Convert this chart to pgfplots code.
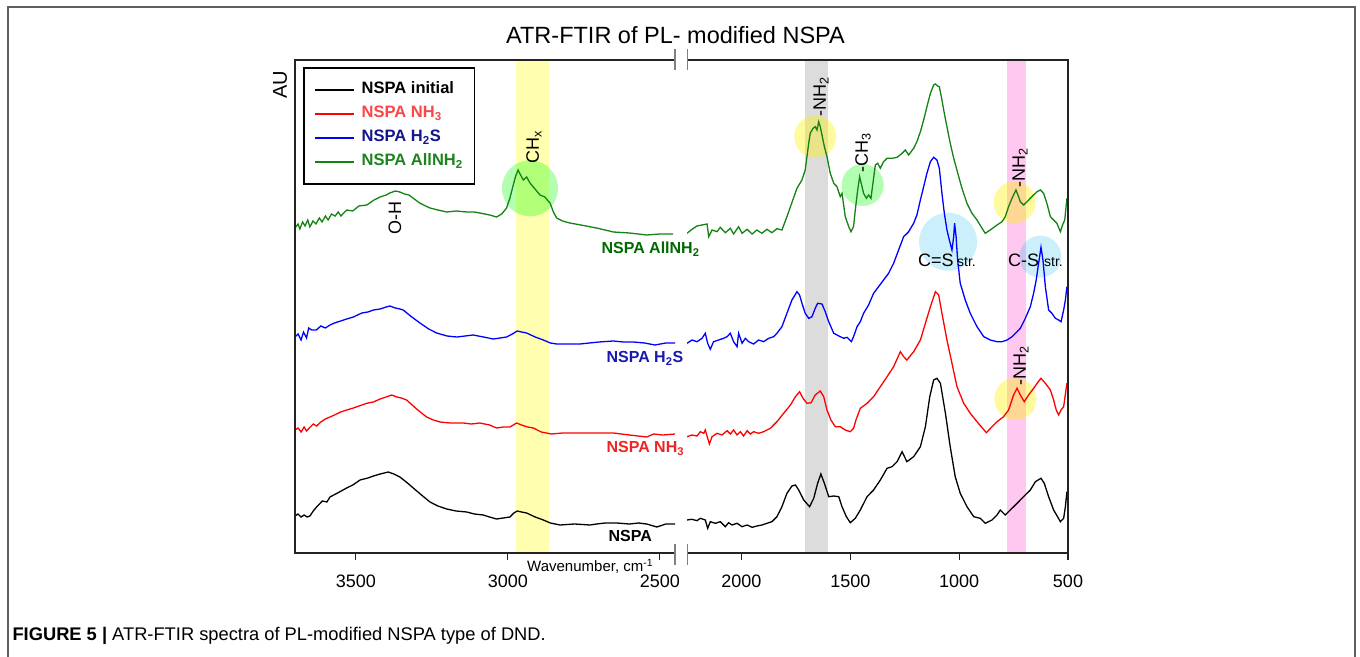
\documentclass[border=0pt]{standalone}
\usepackage{pgfplots}
\pgfplotsset{compat=1.18}
\usepackage{fontspec}
\setmainfont{Liberation Sans}
\definecolor{cgreen}{RGB}{20,130,20}
\definecolor{lgreen}{RGB}{30,130,30}
\definecolor{tgreen}{RGB}{0,105,0}
\definecolor{tblue}{RGB}{25,25,175}
\definecolor{lblue}{RGB}{20,20,140}
\definecolor{tred}{RGB}{240,35,35}
\definecolor{lred}{RGB}{250,70,70}
\definecolor{bandyellow}{RGB}{255,255,175}
\definecolor{bandgray}{RGB}{220,220,220}
\definecolor{bandpink}{RGB}{255,200,240}
\definecolor{framegray}{RGB}{95,95,95}
\definecolor{axisblack}{RGB}{35,35,35}
\pgfplotsset{spec/.style={
  scale only axis, anchor=south west, height=493pt,
  ymin=103, ymax=596, x dir=reverse,
  axis line style={draw=none},
  ytick=\empty, xtick pos=left, tick align=outside,
  major tick length=7pt,
  every tick/.style={axisblack, line width=1.2pt},
  tick label style={font=\fontsize{18}{20}\selectfont},
  xticklabel style={yshift=-11pt},
  /pgf/number format/assume math mode=true,
  /pgf/number format/1000 sep={},
  no marks,
  every axis plot/.append style={line width=1.3pt},
}}
\begin{document}
\begin{tikzpicture}
\useasboundingbox (0pt,0pt) rectangle (1360pt,656pt);
\draw[line width=2pt, framegray] (8pt,-2pt) -- (8pt,649pt) -- (1355pt,649pt) -- (1355pt,-2pt);
% ---------------- left axis
\begin{axis}[spec, at={(295pt,103pt)}, width=380pt, xmin=2450, xmax=3700,
  xtick={2500,3000,3500},
  legend style={at={(0.0218,0.9852)}, anchor=north west, draw=black, line width=1.3pt,
    font=\fontsize{16.5}{18}\selectfont\bfseries, inner xsep=10pt, inner ysep=12pt,
    nodes={inner sep=2pt, text height=12pt, text depth=4pt}, row sep=4pt, column sep=5.5pt},
  legend cell align=left,
  legend image code/.code={\draw[#1, line width=1.3pt] (0pt,0pt) -- (39pt,0pt);},
]
\fill[bandyellow] (axis cs:2974,103) rectangle (axis cs:2864,596);
\fill[green, opacity=0.3] (axis cs:2927,467.7) circle[radius=28pt];
\addplot[black] coordinates {(3700,140) (3690,142) (3680,139) (3670,141) (3660,139) (3651,140) (3640,145) (3629,149) (3610,155) (3595,154) (3585,159) (3560,163) (3530,168) (3510,171) (3486,176) (3460,178) (3442,180) (3420,182) (3393,184) (3375,182) (3355,179) (3330,173) (3311,168) (3280,160) (3256,154) (3230,150) (3201,147) (3170,145) (3135,144) (3110,142) (3081,141) (3060,139) (3037,137) (3015,138) (2993,139) (2980,143) (2969,145) (2955,144) (2938,143) (2910,139) (2883,136) (2860,133) (2828,131) (2780,132) (2730,131) (2708,132) (2680,133) (2642,133) (2600,132) (2570,133) (2543,132) (2510,129) (2480,132) (2450,132)};
\addlegendentry{\textcolor{black}{NSPA initial}}
\addplot[red] coordinates {(3700,226) (3690,228) (3680,224) (3670,229) (3662,225) (3650,229) (3640,232) (3629,230) (3615,234) (3600,237) (3585,239) (3570,241) (3550,244) (3530,246) (3508,248) (3480,251) (3460,253) (3442,254) (3420,257) (3400,259) (3382,261) (3365,259) (3350,258) (3333,256) (3300,247) (3267,239) (3245,236) (3223,234) (3190,233) (3146,233) (3120,232) (3092,233) (3060,231) (3037,228) (3015,229) (2993,229) (2971,233) (2955,231) (2935,229) (2916,228) (2890,224) (2856,222) (2820,223) (2763,223) (2700,223) (2653,223) (2600,221) (2543,219) (2520,222) (2490,221) (2450,222)};
\addlegendentry{\textcolor{lred}{NSPA NH\textsubscript{3}}}
\addplot[blue] coordinates {(3700,319) (3690,322) (3680,316) (3672,324) (3662,318) (3655,328) (3645,326) (3630,326) (3615,330) (3600,328) (3585,331) (3570,333) (3550,335) (3530,337) (3508,339) (3480,343) (3460,344) (3442,346) (3420,347) (3400,349) (3388,350) (3370,348) (3355,347) (3344,346) (3320,340) (3289,333) (3260,327) (3234,323) (3200,320) (3168,319) (3140,320) (3114,321) (3080,319) (3048,317) (3025,318) (3004,319) (2985,322) (2969,325) (2955,324) (2938,323) (2910,319) (2883,316) (2860,313) (2839,312) (2800,312) (2763,312) (2700,314) (2653,315) (2620,314) (2587,314) (2550,313) (2516,311) (2480,313) (2450,313)};
\addlegendentry{\textcolor{lblue}{NSPA H\textsubscript{2}S}}
\addplot[cgreen] coordinates {(3700,428) (3690,432) (3684,427) (3675,434) (3667,430) (3658,436) (3651,429) (3641,435) (3631,432) (3620,438) (3611,434) (3600,440) (3591,436) (3580,442) (3568,440) (3558,444) (3549,440) (3530,446) (3510,445) (3490,450) (3464,451) (3440,456) (3420,459) (3400,461) (3388,463) (3370,465) (3355,464) (3340,462) (3325,461) (3312,458) (3290,453) (3270,450) (3256,448) (3230,446) (3201,444) (3170,445) (3135,444) (3110,444) (3092,443) (3060,441) (3037,439) (3020,442) (3004,448) (2993,458) (2982,471) (2974,480) (2966,486) (2958,481) (2949,476) (2938,479) (2927,473) (2916,469) (2905,465) (2894,461) (2878,459) (2870,456) (2861,453) (2850,444) (2839,438) (2820,435) (2796,433) (2760,431) (2708,428) (2680,426) (2653,424) (2600,423) (2543,421) (2500,422) (2456,422)};
\addlegendentry{\textcolor{lgreen}{NSPA AllNH\textsubscript{2}}}
\end{axis}
% ---------------- right axis
\begin{axis}[spec, at={(687pt,103pt)}, width=381pt, xmin=500, xmax=2250,
  xtick={500,1000,1500,2000}]
\fill[bandgray] (axis cs:1707,103) rectangle (axis cs:1604,596);
\fill[bandpink] (axis cs:780,103) rectangle (axis cs:692,596);
\fill[yellow, opacity=0.38] (axis cs:1661,519.3) circle[radius=21pt];
\fill[green, opacity=0.3] (axis cs:1443,471) circle[radius=21pt];
\fill[yellow, opacity=0.38] (axis cs:745,453.7) circle[radius=21pt];
\fill[cyan, opacity=0.2] (axis cs:1051,414.3) circle[radius=29pt];
\fill[cyan, opacity=0.2] (axis cs:627,399.3) circle[radius=21pt];
\fill[yellow, opacity=0.38] (axis cs:742,257) circle[radius=21pt];
\addplot[black] coordinates {(2250,136) (2227,136.7) (2204,135.3) (2189,137.7) (2166,136) (2155,127.7) (2143,134.3) (2120,132.7) (2097,134.3) (2074,129.3) (2059,133.3) (2043,131) (2020,132.7) (1997,129.3) (1974,131) (1951,128.7) (1929,130) (1906,131) (1883,132.7) (1860,134.3) (1837,139.3) (1814,149.3) (1791,162.7) (1768,170) (1752,171) (1737,166) (1714,156) (1687,149.3) (1668,157.7) (1650,172.7) (1635,182) (1619,172.7) (1599,159.3) (1576,160) (1553,159.3) (1538,149.3) (1518,139.3) (1500,133.3) (1477,137.7) (1454,146) (1423,159.3) (1393,166) (1362,176) (1331,187.7) (1308,189.3) (1285,194.3) (1262,204.3) (1240,194.3) (1209,199.3) (1178,209.3) (1155,229.3) (1135,259.3) (1117,276) (1102,277.7) (1086,272.7) (1063,242.7) (1041,209.3) (1018,179.3) (995,162.7) (964,149.3) (933,139.3) (903,137.7) (880,132.7) (849,136) (826,141) (811,146) (788,141) (765,146) (734,152.7) (704,159.3) (673,166) (650,174.3) (624,177.7) (609,172.7) (589,159.3) (566,146) (548,139.3) (535,134.3) (520,137.7) (512,149.3) (505,164.3)};
\addplot[red] coordinates {(2250,219.3) (2227,221) (2204,220) (2189,224.3) (2173,222.7) (2166,226) (2155,217.7) (2147,212) (2135,219.3) (2112,222.7) (2089,221) (2066,225.3) (2051,222) (2036,226) (2020,221) (2005,224.3) (1990,220) (1974,225.3) (1959,222) (1944,224.3) (1921,222.7) (1898,224.3) (1867,227.7) (1837,234.3) (1806,242.7) (1775,251) (1752,259.3) (1733,264.3) (1717,257.7) (1699,252.7) (1680,253.3) (1661,261) (1638,265) (1622,259.3) (1607,246) (1589,236) (1569,229.3) (1546,229.3) (1523,226) (1500,224.3) (1485,227.7) (1474,236) (1454,247.7) (1423,252.7) (1393,259.3) (1362,269.3) (1331,279.3) (1301,289.3) (1270,304.3) (1255,299.3) (1240,296) (1209,304.3) (1178,316) (1155,332.7) (1132,349.3) (1109,364.3) (1094,361) (1079,342.7) (1056,316) (1033,292.7) (1010,269.3) (979,252.7) (949,242.7) (918,234.3) (875,223.3) (849,229.3) (826,234.3) (796,239.3) (773,246) (750,261) (734,267.7) (719,261) (701,254.3) (681,261) (658,267.7) (642,272.7) (624,277.7) (604,272.7) (581,266) (566,256) (554,246) (543,241) (532,246) (520,249.3) (505,272.7)};
\addplot[blue] coordinates {(2250,312.7) (2227,316) (2204,314.3) (2181,317.7) (2166,322.7) (2155,312.7) (2143,306.7) (2128,314.3) (2105,316) (2082,317.7) (2066,319.3) (2051,322.7) (2036,314.3) (2020,309.3) (2013,322.7) (1997,312.7) (1982,317.7) (1967,314.3) (1944,312) (1921,316) (1898,314.3) (1875,317.7) (1852,319.3) (1837,322.7) (1814,329.3) (1791,342.7) (1768,356) (1745,364.3) (1733,361) (1722,352.7) (1707,342.7) (1691,337.7) (1676,339.3) (1661,347.7) (1650,352.7) (1630,352) (1615,344.3) (1599,334.3) (1576,322.7) (1561,321) (1546,319.3) (1530,317.7) (1515,318.7) (1495,314.3) (1485,319.3) (1469,329.3) (1454,334.3) (1439,342.7) (1416,351) (1393,362.7) (1370,369.3) (1347,376) (1324,382.7) (1301,392.7) (1278,406) (1255,419.3) (1232,424.3) (1209,432.7) (1194,441) (1178,456) (1163,469.3) (1148,482.7) (1132,494.3) (1117,498.7) (1102,496) (1091,487.7) (1079,462.7) (1068,442.7) (1056,426) (1045,416) (1033,406) (1025,419.3) (1021,432.7) (1014,419.3) (1007,396) (995,372.7) (972,356) (949,342.7) (918,329.3) (887,319.3) (857,316) (826,314.3) (803,314.3) (780,316) (757,319.3) (734,324.3) (719,327.7) (696,337.7) (673,349.3) (658,362.7) (646,376) (635,392.7) (624,408.7) (615,396) (604,369.3) (589,346) (574,342.7) (558,337.7) (543,336) (532,334.3) (520,346) (512,356) (505,369.3)};
\addplot[cgreen] coordinates {(2250,422.7) (2227,426.7) (2204,430) (2181,431) (2158,432) (2150,419.3) (2135,426) (2112,424.3) (2097,428.7) (2074,423.3) (2051,427.7) (2036,422) (2013,429.3) (1997,422.7) (1974,426.7) (1951,422) (1929,426) (1906,422.7) (1883,426.7) (1860,423.3) (1837,427.3) (1814,426) (1791,439.3) (1745,467.7) (1722,476) (1707,486) (1691,512.7) (1684,522.7) (1671,527.7) (1661,529.3) (1653,526) (1645,534.3) (1638,529.3) (1630,521) (1619,509.3) (1607,499.3) (1592,482.7) (1576,472.7) (1561,469.3) (1546,459.3) (1538,462.7) (1523,439.3) (1507,429.3) (1497,424.3) (1485,429.3) (1477,446) (1466,466) (1457,479.3) (1448,471) (1439,462.7) (1426,457.7) (1416,461) (1405,457.7) (1396,472.7) (1385,491) (1374,492.7) (1362,487.7) (1347,494.3) (1331,497.7) (1308,497.7) (1285,498.7) (1262,502.7) (1247,506) (1232,501) (1209,507.7) (1194,514.3) (1178,524.3) (1163,536) (1148,549.3) (1132,562.7) (1117,571) (1109,572) (1099,570) (1091,569.3) (1079,556) (1071,546) (1056,529.3) (1041,512.7) (1025,497.7) (1002,479.3) (987,467.7) (964,452.7) (941,442.7) (918,436) (895,427.7) (880,422.7) (857,426) (826,431) (803,434.3) (788,439.3) (773,449.3) (757,457.7) (739,466) (727,459.3) (719,454.3) (704,451) (688,454.3) (673,457.7) (658,461) (642,464.3) (627,466) (612,462.7) (597,452.7) (581,439.3) (566,436) (551,432.7) (535,424.3) (525,431) (515,436) (505,457.7)};
\end{axis}
% ---------------- axis lines and breaks
\draw[line width=1.5pt, axisblack] (675pt,103pt) -- (295pt,103pt) -- (295pt,596pt) -- (675pt,596pt);
\draw[line width=1.5pt, axisblack] (687pt,103pt) -- (1068pt,103pt) -- (1068pt,596pt) -- (687pt,596pt);
\draw[line width=1.5pt, gray] (675pt,586pt) -- (675pt,607pt) (687.5pt,586pt) -- (687.5pt,607pt);
\draw[line width=1.5pt, gray] (675pt,91pt) -- (675pt,112pt) (687.5pt,91pt) -- (687.5pt,112pt);
% ---------------- texts
\node[anchor=base, font=\fontsize{23.5}{27}\selectfont] at (675.5pt,612.5pt) {ATR-FTIR of PL- modified NSPA};
\node[rotate=90, font=\fontsize{20}{22}\selectfont] at (280pt,571pt) {AU};
\node[anchor=base west, font=\fontsize{15}{18}\selectfont, inner sep=0pt] at (527pt,84pt) {Wavenumber, cm\textsuperscript{-1}};
\node[anchor=base west, font=\fontsize{18.3}{21}\selectfont] at (9pt,16pt) {\textbf{FIGURE 5 |} ATR-FTIR spectra of PL-modified NSPA type of DND.};
\begin{scope}[every node/.style={anchor=base west, font=\fontsize{16}{18}\selectfont\bfseries}]
\node[text=tgreen] at (598pt,402.5pt) {NSPA AllNH\textsubscript{2}};
\node[text=tblue] at (603pt,293pt) {NSPA H\textsubscript{2}S};
\node[text=tred] at (603pt,203pt) {NSPA NH\textsubscript{3}};
\node[text=black] at (605pt,114.3pt) {NSPA};
\end{scope}
\begin{scope}[every node/.style={rotate=90, font=\fontsize{18}{20}\selectfont}]
\node at (395pt,438pt) {O-H};
\node at (534pt,509pt) {CH\textsubscript{x}};
\node at (821pt,559pt) {-NH\textsubscript{2}};
\node at (863pt,503pt) {-CH\textsubscript{3}};
\node at (1020pt,488pt) {-NH\textsubscript{2}};
\node at (1021pt,290pt) {-NH\textsubscript{2}};
\end{scope}
\node[anchor=base west, font=\fontsize{18}{20}\selectfont, inner sep=0pt] at (918pt,389.5pt) {C=S};
\node[anchor=base west, font=\fontsize{14}{16}\selectfont, inner sep=0pt] at (957pt,389.5pt) {str.};
\node[anchor=base west, font=\fontsize{18}{20}\selectfont, inner sep=0pt] at (1008pt,389.5pt) {C-S};
\node[anchor=base west, font=\fontsize{14}{16}\selectfont, inner sep=0pt] at (1044pt,389.5pt) {str.};
\end{tikzpicture}
\end{document}
